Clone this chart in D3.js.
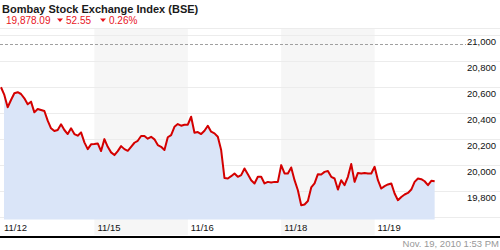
<!DOCTYPE html>
<html>
<head>
<meta charset="utf-8">
<script src="https://cdn.jsdelivr.net/npm/d3@7"></script>
<style>
  body { margin: 0; background: #fff; }
  svg { display: block; font-family: "Liberation Sans", Arial, sans-serif; }
</style>
</head>
<body>
<div id="chart-area"></div>
<script>
// BSE Sensex intraday, 11/12 - 11/19 2010

var width = 500, height = 250;

// trading days shown on the x axis
var days = ['11/12', '11/15', '11/16', '11/18', '11/19'];
var shadedDays = [1, 3];   // alternate day bands
var ptsPerDay = 28;

// index values, one array per day (evenly spaced through the session)
var day0 = [20602, 20543, 20448, 20504, 20556, 20564, 20550, 20517, 20471, 20491,
            20409, 20435, 20427, 20419, 20345, 20286, 20265, 20273, 20317, 20273,
            20242, 20286, 20242, 20229, 20255, 20178, 20126, 20163];
var day1 = [20165, 20170, 20111, 20203, 20144, 20101, 20080, 20111, 20149, 20126,
            20113, 20144, 20175, 20190, 20227, 20227, 20206, 20221, 20201, 20157,
            20144, 20119, 20217, 20234, 20298, 20319, 20306, 20314];
var day2 = [20314, 20375, 20252, 20257, 20242, 20267, 20306, 20260, 20247, 20221,
            20119, 19903, 19900, 19918, 19939, 19913, 19926, 19977, 19933, 19887,
            19862, 19913, 19913, 19862, 19874, 19869, 19874, 19874];
var day3 = [20003, 19939, 19939, 19985, 19887, 19810, 19694, 19700, 19727, 19831,
            19862, 19933, 19931, 19951, 19957, 19913, 19900, 19815, 19887, 19849,
            19913, 20011, 19874, 19943, 19939, 19943, 19939, 19939];
var day4 = [19990, 19887, 19823, 19841, 19854, 19862, 19785, 19733, 19758, 19777,
            19789, 19815, 19874, 19900, 19895, 19879, 19849, 19882, 19878];

var yTicks = [19800, 20000, 20200, 20400, 20600, 20800, 21000];
var refLevel = 20932;   // dashed line near the top

var title = 'Bombay Stock Exchange Index (BSE)';
var lastValue = '19,878.09', change = '52.55', changePct = '0.26%';
var stamp = 'Nov. 19, 2010 1:53 PM';

// flatten into points: t = day index + fraction of session
var data = [];
[day0, day1, day2, day3, day4].forEach(function(arr, di){
    arr.forEach(function(v, j){
        data.push({ t: di + j / ptsPerDay, v: v });
    });
});

////////// Scales //////////
var x = d3.scaleLinear()
    .domain([0, days.length])
    .range([1, 1 + 93.4 * days.length]);

var y = d3.scaleLinear()
    .domain([19600, 21000])
    .range([217.5, 35.5]);

var svg = d3.select("#chart-area")
    .append("svg")
        .attr("width", width)
        .attr("height", height);

// alternate day bands
svg.selectAll("rect.band")
    .data(shadedDays)
    .enter()
    .append("rect")
        .attr("class", "band")
        .attr("x", function(d){ return x(d); })
        .attr("y", 28)
        .attr("width", function(d){ return x(d + 1) - x(d); })
        .attr("height", 207)
        .attr("fill", "#f6f6f6");

// top border + grid lines
svg.append("line")
    .attr("x1", 0).attr("x2", width)
    .attr("y1", 28.5).attr("y2", 28.5)
    .attr("stroke", "#ececec");

svg.selectAll("line.grid")
    .data(y.ticks(7).concat([19600]))
    .enter()
    .append("line")
        .attr("class", "grid")
        .attr("x1", 0).attr("x2", width)
        .attr("y1", function(d){ return y(d); })
        .attr("y2", function(d){ return y(d); })
        .attr("stroke", "#ececec");

// dashed reference line
svg.append("line")
    .attr("x1", 0).attr("x2", 466)
    .attr("y1", Math.round(y(refLevel)) + 0.5)
    .attr("y2", Math.round(y(refLevel)) + 0.5)
    .attr("stroke", "#a0a0a0")
    .attr("stroke-dasharray", "3,2");

// area + line
svg.append("clipPath").attr("id", "areaclip")
    .append("rect").attr("x", 4).attr("y", 0).attr("width", width).attr("height", height);

var area = d3.area()
    .x(function(d){ return x(d.t); })
    .y0(219.5)
    .y1(function(d){ return y(d.v); });

svg.append("path")
    .datum(data)
    .attr("d", area)
    .attr("clip-path", "url(#areaclip)")
    .attr("fill", "#dae5f8");

var line = d3.line()
    .x(function(d){ return x(d.t); })
    .y(function(d){ return y(d.v); });

svg.append("path")
    .datum(data)
    .attr("d", line)
    .attr("fill", "none")
    .attr("stroke", "#d40000")
    .attr("stroke-width", 2)
    .attr("stroke-linejoin", "round");

// y labels (hang just under their grid line)
svg.selectAll("text.ylab")
    .data(yTicks)
    .enter()
    .append("text")
        .attr("class", "ylab")
        .attr("x", 467)
        .attr("y", function(d){ return y(d) + 9; })
        .attr("font-size", "9.5px")
        .attr("fill", "#111")
        .text(d3.format(","));

// x labels
svg.selectAll("text.xlab")
    .data(days)
    .enter()
    .append("text")
        .attr("class", "xlab")
        .attr("x", function(d, i){ return x(i) + 3; })
        .attr("y", 231)
        .attr("font-size", "9.5px")
        .attr("fill", "#111")
        .text(function(d){ return d; });

// bottom axis bar
svg.append("line")
    .attr("x1", 0).attr("x2", width)
    .attr("y1", 237).attr("y2", 237)
    .attr("stroke", "#000")
    .attr("stroke-width", 2);

// header
svg.append("text")
    .attr("x", 2).attr("y", 13)
    .attr("font-size", "11px")
    .attr("font-weight", "bold")
    .attr("fill", "#1a1a1a")
    .text(title);

var red = "#e8141c";
var hdr = svg.append("g").attr("fill", red).attr("font-size", "10px");
hdr.append("text").attr("x", 6).attr("y", 24).text(lastValue);
hdr.append("path").attr("d", "M57,18.5L63,18.5L60,22Z");
hdr.append("text").attr("x", 66).attr("y", 24).text(change);
hdr.append("path").attr("d", "M100,18.5L106,18.5L103,22Z");
hdr.append("text").attr("x", 109).attr("y", 24).text(changePct);

// timestamp
svg.append("text")
    .attr("x", 499).attr("y", 247)
    .attr("text-anchor", "end")
    .attr("font-size", "9.5px")
    .attr("fill", "#999")
    .text(stamp);
</script>
</body>
</html>
